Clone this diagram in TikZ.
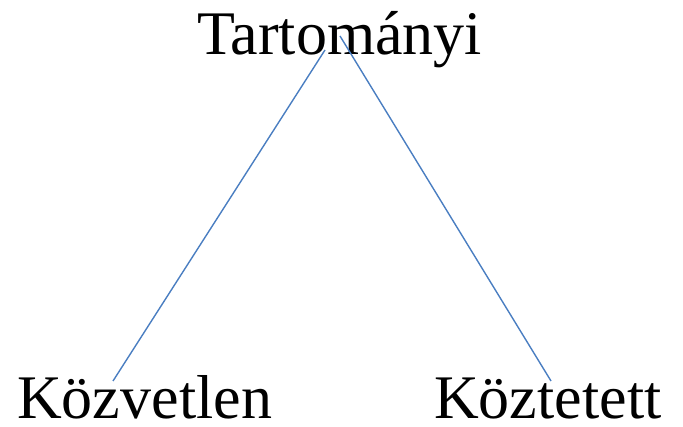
\documentclass[tikz,border=0pt]{standalone}
\usepackage{fontspec}
\setmainfont{Liberation Serif}
\begin{document}
\begin{tikzpicture}[x=1pt,y=-1pt,
  lbl/.style={anchor=base west,inner sep=0pt,text depth=0pt,font=\fontsize{62}{70}\selectfont,text=black},
  conn/.style={draw={rgb,255:red,74;green,126;blue,193},line width=1.4pt}]
\useasboundingbox (0,0) rectangle (683,427);
\node[lbl] (T) at (197,55) {Tartományi};
\node[lbl] (K) at (17,419) {Közvetlen};
\node[lbl] (Z) at (434,419) {Köztetett};
\coordinate (ta) at (325,50);
\coordinate (tb) at (340,36);
\coordinate (ka) at (113,381);
\coordinate (za) at (551,381);
\draw[conn] (ta) -- (ka);
\draw[conn] (tb) -- (za);
\end{tikzpicture}
\end{document}
